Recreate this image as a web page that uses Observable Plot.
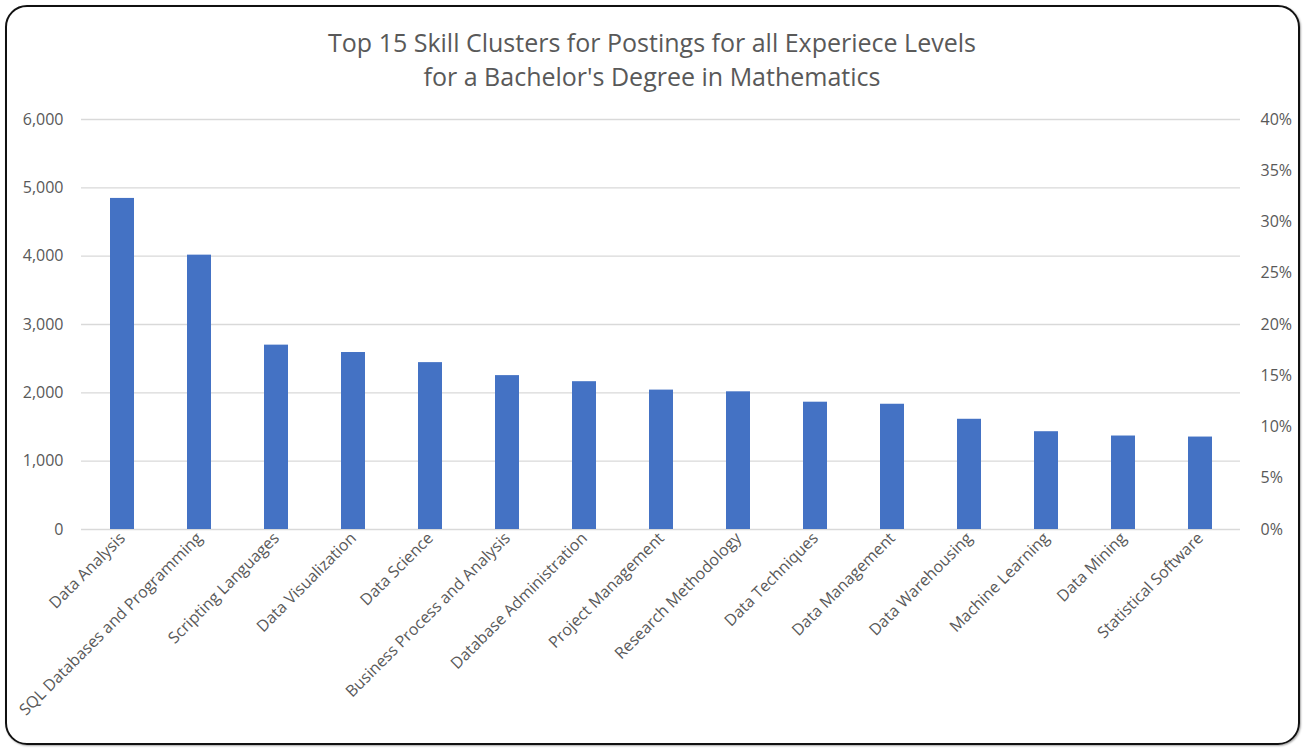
<!DOCTYPE html>
<html><head><meta charset="utf-8">
<script src="https://cdn.jsdelivr.net/npm/d3@7"></script>
<script src="https://cdn.jsdelivr.net/npm/@observablehq/plot@0.6"></script>
<style>
body{margin:0;background:#fff;}
#wrap{position:relative;width:1304px;height:748px;overflow:hidden;font-family:"Open Sans",sans-serif;background:#fff}
#frame{position:absolute;left:5px;top:5px;width:1295px;height:740px;border:2px solid #111;border-radius:22px;box-sizing:border-box;pointer-events:none;box-shadow:1px 1px 2px rgba(0,0,0,0.35)}
#title{position:absolute;top:25px;left:0;width:1304px;text-align:center;color:#595959;font-size:25px;line-height:34px}
#chart{position:absolute;top:100px;left:0}
</style></head>
<body>
<div id="wrap">
  <div id="title">Top 15 Skill Clusters for Postings for all Experiece Levels<br>for a Bachelor's Degree in Mathematics</div>
  <div id="chart"></div>
  <div id="frame"></div>
</div>
<script>
const skills = ["Data Analysis","SQL Databases and Programming","Scripting Languages","Data Visualization","Data Science","Business Process and Analysis","Database Administration","Project Management","Research Methodology","Data Techniques","Data Management","Data Warehousing","Machine Learning","Data Mining","Statistical Software"];
const postings = [4845,4015,2698,2590,2442,2252,2163,2040,2015,1863,1833,1613,1431,1368,1353];
const countTicks = [0,1000,2000,3000,4000,5000,6000];
const pctTicks = [0,5,10,15,20,25,30,35,40];
const yMax = 6000, pctMax = 40;

const data = skills.map((s,i)=>({skill:s, count:postings[i]}));

const chart = Plot.plot({
  width:1304, height:648,
  marginTop:19, marginBottom:219, marginLeft:81, marginRight:64,
  style:{fontFamily:"'Open Sans', sans-serif", fontSize:"16px", color:"#595959", background:"transparent", overflow:"visible"},
  x:{domain:skills, paddingInner:0.69, paddingOuter:0.345, label:null},
  y:{domain:[0,yMax], label:null},
  marks:[
    Plot.gridY(countTicks, {stroke:"#d9d9d9", strokeOpacity:1, strokeWidth:1.3}),
    Plot.barY(data, {x:"skill", y:"count", fill:"#4472C4"}),
    Plot.axisY(countTicks, {anchor:"left", tickSize:0, tickPadding:18, tickFormat:d3.format(","), label:null}),
    Plot.axisY(pctTicks.map(p=>p/pctMax*yMax), {anchor:"right", tickSize:0, tickPadding:20, tickFormat:v=>Math.round(v/yMax*pctMax)+"%", label:null}),
    Plot.axisX({tickRotate:-45, tickSize:0, tickPadding:6, label:null})
  ]
});
document.getElementById("chart").appendChild(chart);
</script>
</body></html>
